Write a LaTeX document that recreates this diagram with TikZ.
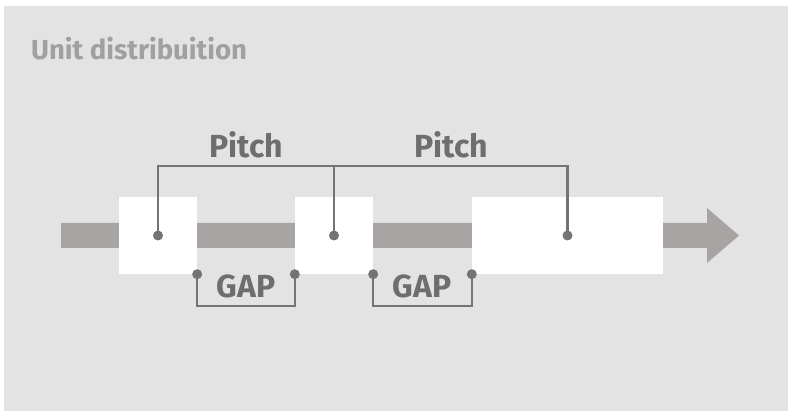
\documentclass[tikz,border=0pt]{standalone}
\usepackage{fontspec}
\setmainfont{Fira Sans}
\usepackage{tikz}

\definecolor{bggrey}{HTML}{E3E3E3}
\definecolor{bargrey}{HTML}{A8A4A4}
\definecolor{linegrey}{HTML}{747474}
\definecolor{titlegrey}{HTML}{A0A0A0}
\definecolor{labelgrey}{HTML}{6E6E6E}

\tikzset{
  unitbox/.style={fill=white, inner sep=0pt, minimum height=77pt},
  dim/.style={draw=linegrey, line width=2.3pt},
  dimlabel/.style={text=labelgrey, font=\fontsize{32}{36}\selectfont\bfseries, inner sep=0pt},
  dimdot/.style={fill=linegrey}
}

\begin{document}
\begin{tikzpicture}[x=1pt, y=-1pt]
        % Fonas
        \useasboundingbox (0, 0) rectangle (788, 411);
        \fill[bggrey] (4, 6) rectangle (788, 411);
        
        % Pavadinimas
        \node[anchor=base west, text=titlegrey, font=\fontsize{27.5}{32}\selectfont\bfseries, inner sep=0pt] (title) at (31, 60) {Unit distribuition};
        
        % Juosta su rodykle
        \fill[bargrey] (61, 223) -- (707, 223) -- (707, 208) -- (739, 235.5) -- (707, 263) -- (707, 248) -- (61, 248) -- cycle;
        
        % Vienetai
        \node[unitbox, minimum width=78pt] (u1) at (158, 235.5) {};
        \node[unitbox, minimum width=78pt] (u2) at (334, 235.5) {};
        \node[unitbox, minimum width=191pt] (u3) at (567.5, 235.5) {};
        
        % Žingsnis (Pitch)
        \coordinate (top1) at (u1.center |- 0, 166);
        \coordinate (top2) at (u2.center |- 0, 166);
        \coordinate (top3) at (u3.center |- 0, 166);
        \draw[dim] (u1.center) -- (top1) -- (top3) -- (u3.center);
        \draw[dim] (u2.center) -- (top2);
        \fill[dimdot] (u1.center) circle (5pt);
        \fill[dimdot] (u2.center) circle (5pt);
        \fill[dimdot] (u3.center) circle (5pt);
        \node[dimlabel] (pitch1) at (246, 145) {Pitch};
        \node[dimlabel] (pitch2) at (451, 145) {Pitch};
        
        % Tarpai (GAP)
        \coordinate (bot1) at (u1.south east |- 0, 306);
        \coordinate (bot2) at (u2.south west |- 0, 306);
        \coordinate (bot3) at (u2.south east |- 0, 306);
        \coordinate (bot4) at (u3.south west |- 0, 306);
        \draw[dim] (u1.south east) -- (bot1) -- (bot2) -- (u2.south west);
        \draw[dim] (u2.south east) -- (bot3) -- (bot4) -- (u3.south west);
        \fill[dimdot] (u1.south east) circle (5pt);
        \fill[dimdot] (u2.south west) circle (5pt);
        \fill[dimdot] (u2.south east) circle (5pt);
        \fill[dimdot] (u3.south west) circle (5pt);
        \node[dimlabel] (gap1) at (246, 286) {GAP};
        \node[dimlabel] (gap2) at (422, 286) {GAP};
    \end{tikzpicture}
\end{document}
